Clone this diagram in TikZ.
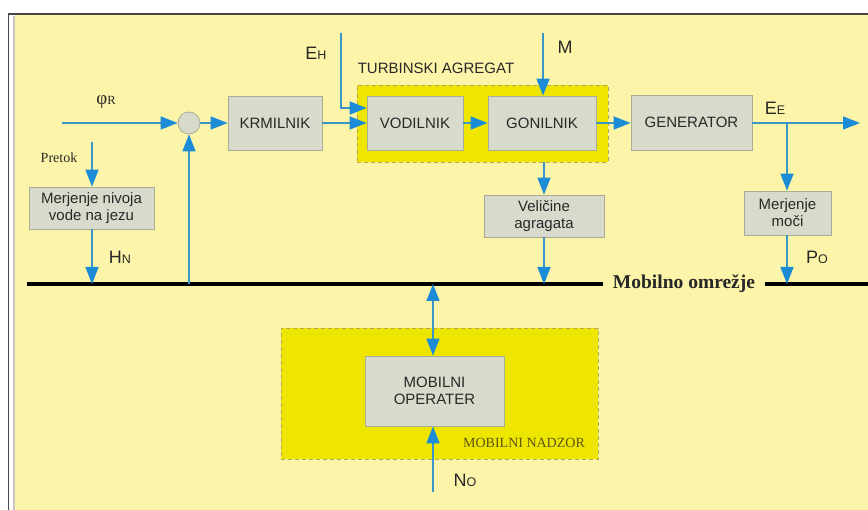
\documentclass[tikz,border=0pt]{standalone}
\usepackage{fontspec}
\setmainfont{Liberation Sans}
\newfontfamily\seriffam{Liberation Serif}
\usetikzlibrary{arrows.meta}

\definecolor{bgyellow}{RGB}{252,244,168}
\definecolor{grpyellow}{RGB}{238,230,0}
\definecolor{grpedge}{RGB}{178,168,84}
\definecolor{boxfill}{RGB}{216,219,204}
\definecolor{boxedge}{RGB}{168,172,150}
\definecolor{flowblue}{RGB}{58,150,200}
\definecolor{tipblue}{RGB}{28,140,215}
\definecolor{txt}{RGB}{40,40,40}
\definecolor{olivetxt}{RGB}{95,85,20}
\definecolor{framegray}{RGB}{70,70,70}

\newcommand{\smalltag}[1]{{\fontsize{12.5}{12.5}\selectfont #1}}

\tikzset{
  tiphead/.tip={Triangle[length=17pt,width=13pt,color=tipblue]},
  blockbox/.style={draw=boxedge, fill=boxfill, line width=0.8pt, text=txt,
    font=\fontsize{15}{17}\selectfont, align=center, inner sep=0pt},
  groupbox/.style={draw=grpedge, fill=grpyellow, line width=0.8pt,
    dash pattern=on 4pt off 3pt, inner sep=0pt},
  flow/.style={draw=flowblue, line width=1.5pt, -tiphead},
  bidir/.style={draw=flowblue, line width=1.5pt, tiphead-tiphead},
  busline/.style={draw=black, line width=3.5pt},
  sig/.style={text=txt, font=\fontsize{18}{18}\selectfont, inner sep=0pt},
}

\begin{document}
\begin{tikzpicture}[x=1pt,y=-1pt]
  % page and frame
  \useasboundingbox (0,0) rectangle (868,510);
  \fill[white] (0,0) rectangle (868,510);
  \fill[bgyellow] (15,15) rectangle (868,510);
  \draw[gray!45, line width=2pt] (14,16) -- (14,510);
  \draw[framegray, line width=1.6pt] (8.5,510) -- (8.5,14) -- (868,14);

  % group frames
  \node[groupbox, minimum width=251pt, minimum height=77pt] (turb) at (482.5,123.5) {};
  \node[text=txt, font=\fontsize{15}{15}\selectfont, inner sep=0pt] (turblbl) at (436,68) {TURBINSKI AGREGAT};
  \node[groupbox, minimum width=317pt, minimum height=131pt] (nadzor) at (439.5,393.5) {};
  \node[text=olivetxt, font=\seriffam\fontsize{14}{14}\selectfont, inner sep=0pt] (nadzorlbl) at (524,443) {MOBILNI NADZOR};

  % blocks
  \node[draw=boxedge, fill=boxfill, line width=0.8pt, circle, minimum size=22pt, inner sep=0pt] (sum) at (189,123) {};
  \node[blockbox, minimum width=94pt, minimum height=54pt] (krm) at (275,123) {KRMILNIK};
  \node[blockbox, minimum width=96pt, minimum height=54pt] (vod) at (415,123) {VODILNIK};
  \node[blockbox, minimum width=108pt, minimum height=54pt] (gon) at (542,123) {GONILNIK};
  \node[blockbox, minimum width=121pt, minimum height=55pt] (gen) at (691.5,122.5) {GENERATOR};
  \node[blockbox, minimum width=120pt, minimum height=42pt] (vel) at (544,216) {Veličine\\agragata};
  \node[blockbox, minimum width=87pt, minimum height=44pt] (moc) at (787.5,213) {Merjenje\\moči};
  \node[blockbox, minimum width=125pt, minimum height=42pt] (niv) at (91.5,208) {Merjenje nivoja\\vode na jezu};
  \node[blockbox, minimum width=139pt, minimum height=70pt] (op) at (434.5,391) {MOBILNI\\OPERATER};

  % bus
  \node[text=black!85, font=\seriffam\bfseries\fontsize{19.5}{19.5}\selectfont, inner sep=0pt] (busname) at (684,284) {Mobilno omrežje};
  \coordinate (busL) at (27,284);
  \coordinate (busM) at (603,284);
  \coordinate (busN) at (765,284);
  \coordinate (busR) at (868,284);
  \draw[busline] (busL) -- (busM);
  \draw[busline] (busN) -- (busR);

  % signal labels
  \node[sig, font=\seriffam\fontsize{19}{19}\selectfont] (phir) at (106,102) {φ\smalltag{R}};
  \node[text=txt, font=\seriffam\fontsize{14}{14}\selectfont, inner sep=0pt] (pretok) at (59,158) {Pretok};
  \node[sig] (hn) at (120,257) {H\smalltag{N}};
  \node[sig] (eh) at (316,53) {E\smalltag{H}};
  \node[sig] (mlbl) at (565,47) {M};
  \node[sig] (ee) at (775,108) {E\smalltag{E}};
  \node[sig] (po) at (817,257) {P\smalltag{O}};
  \node[sig] (no) at (465,480) {N\smalltag{O}};

  % connector end points
  \coordinate (phistart) at (62,123);
  \coordinate (pretoktop) at (92,142);
  \coordinate (ehtop) at (341,33);
  \coordinate (mtop) at (543,33);
  \coordinate (outend) at (860,123);
  \coordinate (branch) at (787,123);
  \coordinate (notop) at (433,492);

  % connectors
  \draw[flow] (phistart) -- (sum.west);
  \draw[flow] (sum.east) -- (krm.west);
  \draw[flow] (krm.east) -- (vod.west);
  \draw[flow] (ehtop) |- ([yshift=15pt]vod.west);
  \draw[flow] (vod.east) -- (gon.west);
  \draw[flow] (mtop) -- (mtop |- gon.north);
  \draw[flow] (gon.east) -- (gen.west |- gon.east);
  \draw[flow] (gen.east |- branch) -- (outend);
  \draw[flow] (branch) -- (branch |- moc.north);
  \draw[flow] (branch |- moc.south) -- (branch |- busR);
  \draw[flow] (vel.north |- turb.south) -- (vel.north);
  \draw[flow] (vel.south) -- (vel.south |- busL);
  \draw[flow] (pretoktop) -- (pretoktop |- niv.north);
  \draw[flow] (pretoktop |- niv.south) -- (pretoktop |- busL);
  \draw[flow] (sum.south |- busL) -- (sum.south);
  \draw[bidir] (notop |- busL) -- (notop |- op.north);
  \draw[flow] (notop) -- (notop |- op.south);
\end{tikzpicture}
\end{document}
